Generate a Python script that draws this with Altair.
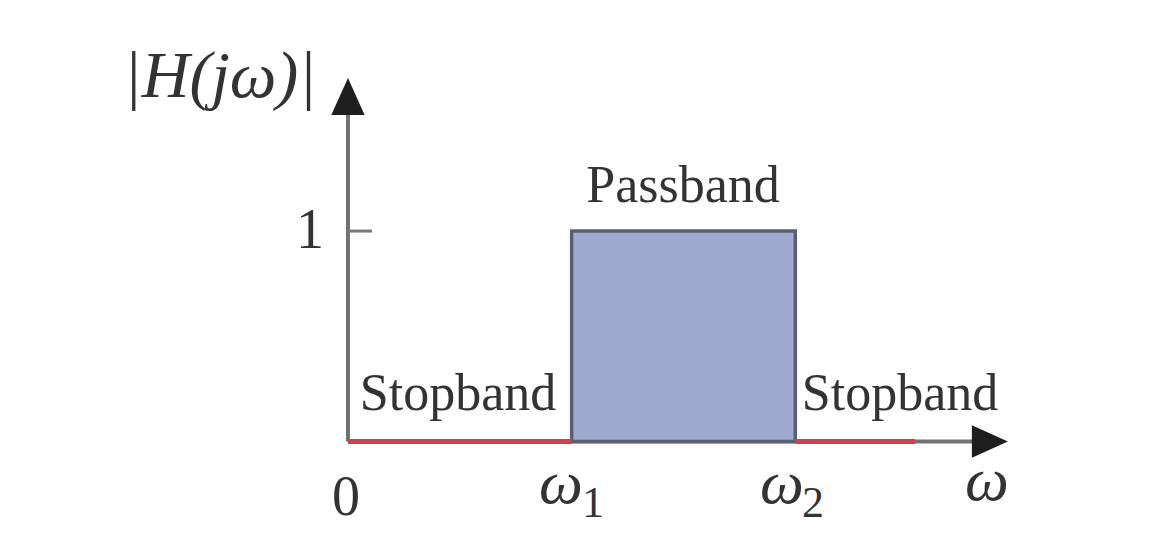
import altair as alt
import pandas as pd

# frequency in units where omega1 = 1, omega2 = 2 ; magnitude |H(jw)|
omega_0 = 0.0
omega_1 = 1.0
omega_2 = 2.0
omega_axis_end = 2.87
stop_right_end = 2.535
gain_pass = 1.0
gain_axis_end = 1.64
tick_len = 0.107

# labels: text, x, y
upright_text = ["Passband", "Stopband", "Stopband"]
upright_x = [1.498, 0.492, 2.468]
upright_y = [1.138, 0.15, 0.15]

num_text = ["1", "0"]
num_x = [-0.170, -0.009]
num_y = [0.92, -0.349]

omega_text = ["ω", "ω", "ω"]
omega_x = [0.952, 1.940, 2.857]
omega_y = [-0.292, -0.292, -0.278]

sub_text = ["1", "2"]
sub_x = [1.095, 2.079]
sub_y = [-0.359, -0.359]

ylabel_text = ["|H(jω)|"]
ylabel_x = [-0.572]
ylabel_y = [1.637]

XS = alt.Scale(domain=[-1.52, 3.55], nice=False, zero=False)
YS = alt.Scale(domain=[-0.43, 2.06], nice=False, zero=False)


def X(f="x"):
    return alt.X(f"{f}:Q", scale=XS, axis=None)


def Y(f="y"):
    return alt.Y(f"{f}:Q", scale=YS, axis=None)


axes_df = pd.DataFrame({
    "x": [omega_0, omega_0],
    "x2": [omega_0, omega_axis_end],
    "y": [0.0, 0.0],
    "y2": [gain_axis_end, 0.0],
})
axes = alt.Chart(axes_df).mark_rule(color="#727272", strokeWidth=4).encode(
    x=X(), x2="x2:Q", y=Y(), y2="y2:Q"
)

tick_df = pd.DataFrame({"x": [omega_0], "x2": [omega_0 + tick_len], "y": [gain_pass]})
tick = alt.Chart(tick_df).mark_rule(color="#777777", strokeWidth=3).encode(
    x=X(), x2="x2:Q", y=Y()
)

box_df = pd.DataFrame({"x": [omega_1], "x2": [omega_2], "y": [0.0], "y2": [gain_pass]})
box = alt.Chart(box_df).mark_rect(
    fill="#9eaacf", stroke="#5b5f72", strokeWidth=3.5
).encode(x=X(), x2="x2:Q", y=Y(), y2="y2:Q")

stop_df = pd.DataFrame({
    "x": [omega_0, omega_2],
    "x2": [omega_1, stop_right_end],
    "y": [0.0, 0.0],
})
stops = alt.Chart(stop_df).mark_rule(color="#c94650", strokeWidth=5).encode(
    x=X(), x2="x2:Q", y=Y()
)

up_df = pd.DataFrame({"x": [omega_0], "y": [gain_axis_end]})
up_arrow = alt.Chart(up_df).mark_point(
    shape="M0,-1L0.9,1L-0.9,1Z", size=1369, filled=True, color="#1e1e1e", opacity=1
).encode(x=X(), y=Y())

right_df = pd.DataFrame({"x": [omega_axis_end], "y": [0.0]})
right_arrow = alt.Chart(right_df).mark_point(
    shape="M1,0L-1,0.9L-1,-0.9Z", size=1296, filled=True, color="#1e1e1e", opacity=1
).encode(x=X(), y=Y())

FONT = "Liberation Serif"
TXT = "#333333"


def text_layer(texts, xs, ys, size, italic=False):
    df = pd.DataFrame({"t": texts, "x": xs, "y": ys})
    kw = dict(font=FONT, fontSize=size, baseline="alphabetic", align="center", color=TXT)
    if italic:
        kw["fontStyle"] = "italic"
    return alt.Chart(df).mark_text(**kw).encode(x=X(), y=Y(), text="t:N")


labels = text_layer(upright_text, upright_x, upright_y, 52)
nums = text_layer(num_text, num_x, num_y, 56)
omegas = text_layer(omega_text, omega_x, omega_y, 62, italic=True)
subs = text_layer(sub_text, sub_x, sub_y, 44)
ylab = text_layer(ylabel_text, ylabel_x, ylabel_y, 66, italic=True)

chart = alt.layer(
    axes, tick, box, stops, up_arrow, right_arrow, labels, nums, omegas, subs, ylab
).properties(
    width=1134, height=524, padding=0, autosize=alt.AutoSizeParams(type="none"),
    background="white"
).configure_view(stroke=None)

chart.save("out.html", embed_options={"renderer": "svg", "actions": False})
